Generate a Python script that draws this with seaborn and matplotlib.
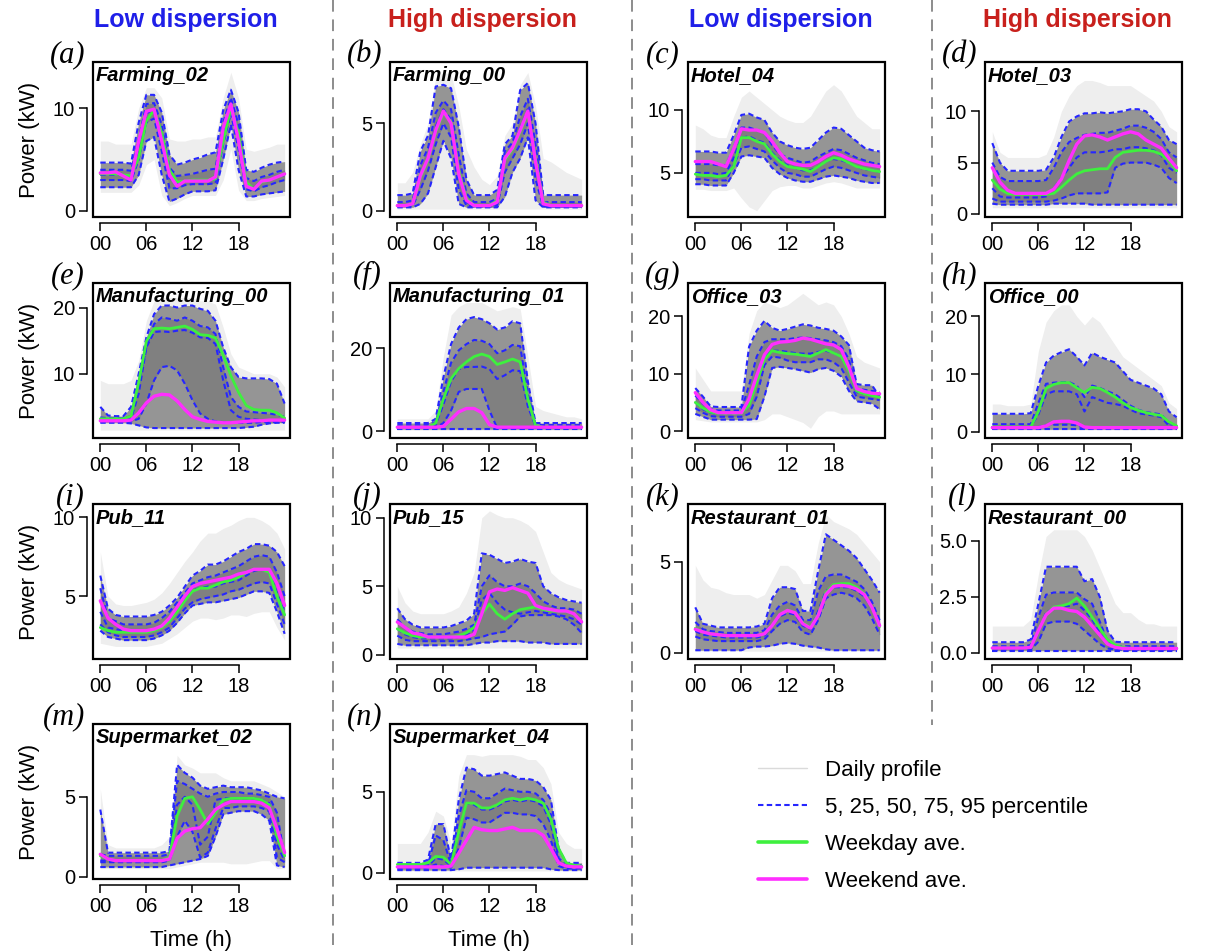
import matplotlib
matplotlib.use("Agg")
import matplotlib.pyplot as plt
from matplotlib.patches import Rectangle
from matplotlib.lines import Line2D
import seaborn as sns

HOURS = list(range(25))
XTICKS = [0, 6, 12, 18]
XTICKLABELS = ["00", "06", "12", "18"]

# ---------------- (a) Farming_02 ----------------
A_P05 = [2.3,2.3,2.3,2.3,2.3,3.5,6.8,7.2,3.5,0.9,1.2,1.6,1.9,1.9,1.9,2.0,5.0,8.4,4.0,1.4,1.4,1.6,1.7,1.8,1.9]
A_P25 = [3.0,3.0,3.0,3.0,2.9,5.0,8.6,9.0,5.8,2.2,2.2,2.5,2.6,2.6,2.6,2.7,6.5,9.5,6.0,2.1,1.9,2.3,2.5,2.8,3.0]
A_P50 = [3.5,3.5,3.5,3.5,3.3,6.0,9.5,9.9,7.2,3.2,2.7,2.9,3.0,3.0,3.0,3.1,7.5,10.3,7.3,2.6,2.2,2.8,3.0,3.3,3.5]
A_P75 = [4.0,4.0,4.0,4.0,3.9,7.0,10.4,10.5,8.4,4.2,3.4,3.5,3.6,3.8,4.0,4.1,8.6,11.0,8.4,3.2,2.9,3.3,3.5,3.8,4.0]
A_P95 = [4.7,4.7,4.7,4.7,4.6,8.6,11.3,11.3,9.6,5.5,4.5,4.7,5.0,5.2,5.5,5.7,9.8,11.8,9.6,4.0,3.8,4.2,4.5,4.7,4.8]
A_WKD = [3.6,3.6,3.6,3.5,3.4,5.2,8.8,9.8,7.6,4.0,2.8,2.9,3.0,3.0,3.0,3.1,6.8,10.0,7.6,2.8,2.1,2.8,3.0,3.3,3.6]
A_WKE = [3.7,3.7,3.8,3.4,3.0,6.8,9.7,9.9,6.8,3.5,2.4,2.9,2.9,2.9,2.9,3.3,8.1,10.4,6.8,2.4,2.1,2.9,3.0,3.3,3.6]
A_MIN = [1.8,1.8,1.8,1.8,1.8,2.5,4.5,5.0,1.5,0.5,0.8,1.2,1.5,1.5,1.5,1.5,3.0,6.0,2.0,1.0,1.0,1.2,1.3,1.4,1.5]
A_MAX = [6.8,6.8,6.5,6.5,6.5,10.0,12.0,12.0,11.0,7.0,6.8,6.8,7.0,7.0,7.2,7.2,11.0,13.5,11.0,6.0,5.8,6.0,6.2,6.5,6.5]

# ---------------- (b) Farming_00 ----------------
B_P05 = [0.2,0.2,0.2,0.4,1.0,2.5,4.0,3.0,0.4,0.2,0.2,0.2,0.2,0.2,0.8,2.2,3.0,4.2,0.6,0.2,0.2,0.2,0.2,0.2,0.2]
B_P25 = [0.25,0.25,0.3,1.2,2.3,3.8,5.0,4.2,1.2,0.3,0.25,0.25,0.25,0.3,2.2,3.0,3.8,5.0,1.8,0.25,0.25,0.25,0.25,0.25,0.25]
B_P50 = [0.3,0.3,0.4,2.0,3.0,4.8,5.8,5.2,2.2,0.5,0.3,0.3,0.3,0.4,3.0,3.6,4.7,5.8,2.8,0.3,0.3,0.3,0.3,0.3,0.3]
B_P75 = [0.5,0.5,0.6,2.6,3.6,5.6,6.3,5.8,3.2,1.0,0.5,0.5,0.5,0.7,3.4,3.9,5.4,6.4,3.8,0.5,0.5,0.5,0.5,0.5,0.5]
B_P95 = [0.9,0.9,1.0,3.4,4.3,7.1,7.2,7.0,4.8,1.8,0.9,0.9,0.9,1.2,3.8,4.3,6.9,7.3,5.0,0.9,0.9,0.9,0.9,0.9,0.9]
B_WKD = [0.3,0.3,0.4,1.9,2.9,4.5,5.6,5.1,2.3,0.7,0.3,0.3,0.3,0.6,2.9,3.5,4.5,5.6,3.0,0.5,0.3,0.3,0.3,0.3,0.3]
B_WKE = [0.3,0.3,0.4,2.0,3.0,4.6,5.7,5.0,2.1,0.6,0.3,0.3,0.3,0.5,3.0,3.6,4.6,5.7,2.8,0.4,0.3,0.3,0.3,0.3,0.3]
B_MIN = [0.1,0.1,0.1,0.1,0.1,0.1,0.1,0.1,0.1,0.1,0.1,0.1,0.1,0.1,0.1,0.1,0.1,0.1,0.1,0.1,0.1,0.1,0.1,0.1,0.1]
B_MAX = [1.6,1.6,2.2,3.8,5.0,7.6,7.9,7.8,6.0,3.5,2.5,1.8,1.5,2.0,4.3,5.0,7.2,7.9,6.0,3.0,2.8,2.5,2.2,2.0,1.8]

# ---------------- (c) Hotel_04 ----------------
C_P05 = [4.1,4.1,4.0,4.0,4.0,5.0,6.3,6.4,6.3,6.2,5.4,4.9,4.6,4.4,4.3,4.3,4.5,4.7,4.8,4.7,4.6,4.4,4.3,4.2,4.2]
C_P25 = [4.5,4.5,4.4,4.4,4.4,5.6,7.0,7.1,6.9,6.7,6.0,5.4,5.0,4.9,4.7,4.7,5.0,5.3,5.5,5.4,5.2,5.0,4.8,4.7,4.6]
C_P50 = [5.0,5.0,5.0,4.9,5.0,6.2,7.8,7.9,7.6,7.4,6.6,6.0,5.6,5.4,5.2,5.2,5.5,5.9,6.1,6.0,5.8,5.5,5.3,5.2,5.1]
C_P75 = [5.7,5.7,5.7,5.6,5.6,7.0,8.6,8.6,8.4,8.2,7.2,6.5,6.2,6.0,5.8,5.9,6.3,6.6,6.9,6.8,6.5,6.2,6.0,5.8,5.7]
C_P95 = [6.7,6.7,6.7,6.6,6.6,8.0,9.6,9.7,9.4,9.2,8.2,7.5,7.2,7.0,6.9,7.0,7.6,8.2,8.6,8.5,8.0,7.5,7.0,6.8,6.7]
C_WKD = [4.9,4.8,4.8,4.7,4.8,5.5,7.8,7.8,7.5,7.3,6.5,5.9,5.5,5.4,5.3,5.1,5.5,5.9,6.2,6.1,5.8,5.5,5.35,5.2,5.1]
C_WKE = [5.9,5.9,5.9,5.7,5.5,6.9,8.5,8.4,8.4,8.2,7.5,6.6,5.9,5.7,5.6,5.6,5.9,6.3,6.6,6.4,6.1,5.9,5.7,5.6,5.5]
C_MIN = [3.7,3.7,3.6,3.6,3.6,3.8,3.0,2.3,2.0,2.8,3.6,3.9,4.0,4.0,3.8,3.8,4.0,4.2,4.3,4.2,4.0,3.8,3.8,3.8,3.8]
C_MAX = [8.8,8.5,8.0,7.8,7.8,9.5,11.0,11.5,11.0,10.5,10.0,9.5,9.2,9.0,9.0,9.5,10.5,11.5,12.0,11.5,10.5,9.5,9.0,8.5,8.5]

# ---------------- (d) Hotel_03 ----------------
D_P05 = [1.0,0.9,0.9,0.9,0.9,0.9,0.9,0.9,1.0,1.0,1.0,1.0,1.0,0.9,0.9,0.9,0.9,0.9,0.9,0.9,0.9,0.9,0.9,0.9,0.9]
D_P25 = [1.5,1.2,1.2,1.2,1.2,1.2,1.2,1.2,1.3,1.5,1.8,2.0,2.0,2.0,2.0,2.1,4.5,4.9,5.0,5.0,5.0,4.8,4.5,3.5,3.0]
D_P50 = [2.5,1.7,1.6,1.6,1.6,1.6,1.6,1.7,2.5,3.5,4.5,5.5,6.0,6.0,6.0,6.1,6.3,6.3,6.5,6.5,6.4,6.2,5.7,4.5,4.0]
D_P75 = [5.0,3.6,3.2,3.2,3.2,3.2,3.2,3.3,4.5,6.0,7.0,7.4,7.7,7.8,7.9,7.9,8.1,8.3,8.6,8.6,8.4,8.0,7.3,6.0,5.5]
D_P95 = [6.9,5.0,4.2,4.2,4.2,4.2,4.2,4.3,5.5,7.5,9.0,9.5,9.8,9.8,9.9,9.8,9.9,10.0,10.2,10.2,10.0,9.2,8.5,7.2,6.8]
D_WKD = [3.3,2.4,2.0,1.9,1.9,1.9,1.9,1.9,2.0,2.6,3.3,3.9,4.2,4.3,4.4,4.4,5.5,6.0,6.1,6.2,6.2,6.1,5.8,5.2,4.2]
D_WKE = [4.5,3.1,2.3,2.0,2.0,2.0,2.0,2.0,2.4,3.4,5.2,6.8,7.6,7.7,7.5,7.2,7.5,7.8,8.0,7.8,7.2,6.8,6.4,5.4,4.5]
D_MIN = [0.6,0.6,0.6,0.6,0.6,0.6,0.6,0.6,0.6,0.6,0.6,0.6,0.6,0.6,0.6,0.6,0.6,0.6,0.6,0.6,0.6,0.6,0.6,0.6,0.6]
D_MAX = [8.0,6.0,5.5,5.5,5.5,5.5,5.5,5.8,7.5,10.0,11.5,12.5,13.0,13.0,12.8,12.5,12.5,12.5,12.5,12.0,11.5,11.0,10.0,8.5,8.0]

# ---------------- (e) Manufacturing_00 ----------------
E_P05 = [2.6,2.6,2.6,2.6,2.5,2.2,1.9,1.8,1.8,1.8,1.8,1.8,1.8,1.8,1.8,1.8,1.8,1.8,1.8,1.9,2.0,2.3,2.5,2.6,2.6]
E_P25 = [2.8,2.8,2.8,2.8,2.8,3.2,5.5,9.0,11.0,11.2,10.5,8.5,6.0,4.0,3.2,2.8,2.7,2.6,2.6,2.6,2.6,2.7,2.7,2.7,2.7]
E_P50 = [3.0,3.0,3.0,3.0,3.2,7.0,14.0,16.3,16.4,16.3,16.5,16.6,16.2,15.5,15.4,14.5,9.0,4.5,3.5,3.2,3.1,3.0,3.0,3.0,3.0]
E_P75 = [3.4,3.3,3.3,3.3,3.6,8.5,14.0,17.5,18.5,18.3,18.0,18.5,18.0,17.2,17.0,16.0,11.0,6.5,5.0,4.3,4.2,4.1,4.0,3.8,3.5]
E_P95 = [5.0,3.7,3.6,3.6,5.0,10.0,15.5,19.0,20.3,20.3,20.0,20.3,20.3,19.8,19.5,18.0,14.0,11.0,9.5,9.3,9.3,9.3,9.2,8.5,5.5]
E_WKD = [3.2,3.2,3.2,3.2,3.6,8.7,14.9,16.8,16.9,16.8,17.0,17.2,16.7,15.9,15.8,15.4,12.8,9.7,7.2,5.2,4.6,4.5,4.5,4.1,3.3]
E_WKE = [2.9,2.9,2.9,2.9,3.0,4.1,5.6,6.6,6.9,6.8,5.9,4.6,3.5,3.1,2.8,2.7,2.6,2.6,2.7,2.8,2.9,2.9,3.0,3.0,3.0]
E_MIN = [1.5,1.5,1.5,1.5,1.5,1.5,1.5,1.5,1.5,1.5,1.5,1.5,1.5,1.5,1.5,1.5,1.5,1.5,1.5,1.5,1.5,1.5,1.5,1.5,1.5]
E_MAX = [9.0,8.5,8.5,8.5,9.0,12.0,18.0,21.0,21.5,21.5,21.5,21.5,21.5,21.0,21.0,20.5,17.0,13.0,11.0,10.5,10.0,10.0,10.0,9.5,8.0]

# ---------------- (f) Manufacturing_01 ----------------
F_P05 = [0.5,0.5,0.5,0.5,0.5,0.5,0.5,0.5,0.5,0.5,0.5,0.5,0.5,0.5,0.5,0.5,0.5,0.5,0.5,0.5,0.5,0.5,0.5,0.5,0.5]
F_P25 = [0.8,0.8,0.8,0.8,0.8,0.9,2.0,5.0,9.5,10.2,10.2,10.2,5.0,0.8,0.8,0.8,0.8,0.8,0.8,0.8,0.8,0.8,0.8,0.8,0.8]
F_P50 = [1.0,1.0,1.0,1.0,1.0,1.5,6.5,12.0,15.0,15.5,15.5,15.6,15.0,12.6,13.5,14.7,14.5,6.0,1.2,1.0,1.0,1.0,1.0,1.0,1.0]
F_P75 = [1.5,1.5,1.5,1.5,1.5,2.2,9.5,16.5,19.5,21.0,22.0,21.8,21.0,18.8,19.5,20.8,20.5,9.0,1.6,1.5,1.5,1.5,1.5,1.5,1.5]
F_P95 = [2.0,2.0,2.0,2.0,2.0,3.0,13.0,21.0,25.0,27.0,27.5,27.0,26.0,24.5,25.0,26.5,26.0,12.0,2.0,2.0,2.0,2.0,2.0,2.0,2.0]
F_WKD = [1.0,1.0,1.0,1.0,1.0,2.0,7.8,12.7,15.1,16.7,18.0,18.6,18.0,16.1,16.7,17.4,16.7,7.8,1.4,1.0,1.0,1.0,1.0,1.0,1.0]
F_WKE = [1.0,1.0,1.0,1.0,1.0,1.0,1.2,2.9,4.7,5.5,5.5,4.5,1.6,1.0,1.0,1.0,1.0,1.0,1.0,1.0,1.0,1.0,1.0,1.0,1.0]
F_MIN = [0.3,0.3,0.3,0.3,0.3,0.3,0.3,0.3,0.3,0.3,0.3,0.3,0.3,0.3,0.3,0.3,0.3,0.3,0.3,0.3,0.3,0.3,0.3,0.3,0.3]
F_MAX = [3.0,3.0,3.0,3.0,3.0,5.0,18.0,28.0,30.0,31.0,31.0,31.0,30.0,29.0,29.5,30.0,29.5,18.0,6.0,5.0,4.5,4.0,3.5,3.5,3.0]

# ---------------- (g) Office_03 ----------------
G_P05 = [3.0,2.5,2.0,2.0,2.0,2.0,2.0,2.0,2.1,6.0,11.0,11.2,11.0,10.8,10.5,10.2,10.8,11.0,10.5,9.5,7.0,5.2,5.0,4.8,3.8]
G_P25 = [4.0,3.2,2.6,2.5,2.5,2.5,2.5,3.0,6.0,11.5,13.0,12.8,12.3,12.0,12.0,12.0,12.5,12.5,12.0,11.0,8.5,6.0,5.8,5.6,5.4]
G_P50 = [5.0,3.8,3.2,3.0,3.0,3.0,3.0,4.5,9.0,12.8,14.0,14.0,13.8,13.6,13.5,13.5,13.8,14.0,13.6,13.0,10.5,6.8,6.5,6.2,6.0]
G_P75 = [6.2,4.8,3.8,3.6,3.6,3.6,3.6,8.0,13.0,15.5,16.0,16.0,16.0,16.2,16.3,16.2,16.0,15.8,15.5,14.8,12.5,7.4,7.2,7.0,6.8]
G_P95 = [7.5,6.0,4.3,4.2,4.2,4.2,4.2,14.7,17.5,19.2,18.0,17.5,17.8,18.2,18.6,18.4,18.0,17.8,17.5,16.5,15.0,8.2,8.0,8.0,6.0]
G_WKD = [5.0,4.0,3.3,3.1,3.1,3.1,3.1,4.5,8.5,12.5,14.0,13.7,13.5,13.4,13.2,13.0,13.6,14.2,13.6,13.0,10.5,7.0,6.5,6.2,5.9]
G_WKE = [6.7,5.0,3.7,3.2,3.2,3.2,3.2,5.6,9.7,13.3,15.1,15.5,15.6,15.8,16.2,16.0,15.6,15.2,15.0,14.2,11.2,7.4,6.9,6.6,6.5]
G_MIN = [2.0,1.8,1.6,1.6,1.6,1.6,1.6,1.6,1.6,2.0,3.0,3.0,2.5,2.0,1.5,0.5,2.5,3.5,3.5,3.0,3.0,3.0,3.0,3.0,3.0]
G_MAX = [11.0,9.0,7.0,7.0,7.0,7.0,7.0,17.0,21.0,22.5,22.0,21.5,22.0,23.0,24.0,23.0,22.0,22.5,22.0,20.0,17.0,13.0,12.0,11.5,11.0]

# ---------------- (h) Office_00 ----------------
H_P05 = [0.4,0.4,0.4,0.4,0.4,0.4,0.4,0.4,0.4,0.4,0.4,0.4,0.4,0.4,0.4,0.4,0.4,0.4,0.4,0.4,0.4,0.4,0.4,0.4,0.4]
H_P25 = [0.6,0.6,0.6,0.6,0.6,0.6,0.8,1.1,1.2,1.2,1.2,1.1,0.6,0.6,0.6,0.6,0.6,0.6,0.6,0.6,0.6,0.6,0.6,0.6,0.6]
H_P50 = [0.8,0.8,0.8,0.8,0.8,0.8,3.0,6.5,7.0,7.0,7.0,6.5,3.5,6.0,5.5,5.0,4.8,4.5,3.8,3.2,3.0,2.8,2.5,1.0,0.6]
H_P75 = [1.3,1.3,1.3,1.3,1.3,1.3,5.0,8.3,8.5,8.6,8.6,8.0,6.0,8.0,7.6,7.0,6.5,5.5,4.5,3.8,3.4,3.2,3.0,1.5,1.0]
H_P95 = [3.1,3.1,3.1,3.1,3.1,3.2,8.0,12.0,13.2,13.8,14.3,13.0,11.5,13.7,13.0,12.5,12.0,10.5,9.0,8.5,8.0,7.5,6.5,3.5,2.5]
H_WKD = [0.8,0.8,0.8,0.8,0.8,0.8,3.5,7.5,8.2,8.5,8.5,7.6,6.8,7.7,7.5,6.8,6.0,5.0,4.2,3.7,3.3,3.0,2.8,1.7,1.0]
H_WKE = [0.7,0.7,0.7,0.7,0.7,0.7,0.7,1.0,1.7,1.8,1.8,1.5,0.8,0.7,0.7,0.7,0.7,0.7,0.7,0.7,0.7,0.7,0.7,0.7,0.7]
H_MIN = [0.3,0.3,0.3,0.3,0.3,0.3,0.3,0.3,0.3,0.3,0.3,0.3,0.3,0.3,0.3,0.3,0.3,0.3,0.3,0.3,0.3,0.3,0.3,0.3,0.3]
H_MAX = [4.8,4.8,4.5,4.5,4.5,4.8,14.0,19.0,21.0,22.0,22.0,20.0,18.5,20.0,19.0,17.0,15.0,13.0,12.0,11.0,10.0,9.0,8.0,5.0,4.0]

# ---------------- (i) Pub_11 ----------------
I_P05 = [2.8,2.4,2.3,2.2,2.2,2.2,2.2,2.3,2.5,2.8,3.3,3.9,4.4,4.5,4.6,4.6,4.7,4.8,4.9,5.1,5.3,5.3,5.2,4.0,2.6]
I_P25 = [3.2,2.7,2.5,2.4,2.4,2.4,2.4,2.5,2.7,3.0,3.6,4.2,4.6,4.8,4.9,5.0,5.1,5.3,5.4,5.6,5.8,5.9,5.8,4.5,3.2]
I_P50 = [4.0,3.0,2.9,2.8,2.8,2.8,2.8,2.9,3.1,3.5,4.1,4.8,5.4,5.5,5.6,5.6,5.8,5.9,6.0,6.3,6.6,6.7,6.5,5.2,4.0]
I_P75 = [5.5,3.6,3.4,3.2,3.2,3.2,3.2,3.3,3.6,4.0,4.6,5.2,5.8,6.0,6.2,6.3,6.5,6.7,6.9,7.2,7.5,7.6,7.5,6.5,5.0]
I_P95 = [6.3,4.2,3.8,3.7,3.7,3.7,3.7,3.8,4.0,4.4,4.9,5.6,6.3,6.6,7.0,7.0,7.2,7.5,7.8,8.0,8.3,8.3,8.2,7.8,6.9]
I_WKD = [3.0,2.8,2.7,2.7,2.7,2.7,2.7,2.8,3.0,3.4,4.0,4.7,5.3,5.5,5.5,5.7,5.9,6.0,6.2,6.5,6.7,6.7,6.5,5.0,3.8]
I_WKE = [4.7,3.6,3.2,2.9,2.8,2.8,2.8,2.9,3.1,3.6,4.3,5.0,5.6,5.8,5.9,6.0,6.1,6.2,6.4,6.5,6.7,6.7,6.7,5.8,4.4]
I_MIN = [2.0,1.9,1.8,1.8,1.8,1.8,1.8,1.9,2.0,2.3,2.6,3.0,3.4,3.6,3.6,3.5,3.6,3.8,3.8,3.7,3.9,4.0,4.0,3.0,2.2]
I_MAX = [7.8,5.0,4.5,4.4,4.4,4.5,4.6,4.8,5.2,5.8,6.5,7.2,7.8,8.5,9.0,9.0,9.3,9.5,9.8,10.0,10.0,9.8,9.5,9.0,8.0]

# ---------------- (j) Pub_15 ----------------
J_P05 = [0.8,0.7,0.7,0.7,0.7,0.7,0.7,0.7,0.7,0.7,0.8,0.9,0.9,1.0,1.0,1.0,1.0,0.9,0.9,0.9,0.8,0.8,0.8,0.8,0.8]
J_P25 = [1.4,1.1,1.0,1.0,1.0,1.0,1.0,1.0,1.0,1.1,1.2,1.3,1.5,1.6,1.7,2.2,2.8,2.9,2.9,2.9,2.9,2.8,2.6,2.2,1.6]
J_P50 = [1.9,1.5,1.3,1.2,1.2,1.2,1.2,1.2,1.3,1.5,1.8,4.0,4.5,3.8,3.3,3.1,3.0,3.1,3.2,3.1,3.0,2.9,2.8,2.6,2.2]
J_P75 = [2.6,2.0,1.7,1.6,1.5,1.5,1.5,1.6,1.7,1.9,2.2,5.0,5.8,5.3,5.0,5.0,5.2,5.0,4.5,3.9,3.6,3.4,3.4,3.3,3.0]
J_P95 = [3.4,2.6,2.2,2.0,2.0,2.0,2.0,2.1,2.3,2.5,3.0,7.4,7.3,7.0,6.7,6.8,7.0,6.8,6.7,5.0,4.5,4.2,4.0,3.9,3.8]
J_WKD = [1.9,1.6,1.4,1.3,1.3,1.3,1.3,1.3,1.4,1.6,2.0,3.0,3.7,3.0,2.6,3.0,3.3,3.4,3.5,3.3,3.2,3.2,3.2,3.0,2.4]
J_WKE = [2.4,2.0,1.6,1.5,1.3,1.3,1.3,1.3,1.3,1.3,1.5,3.0,4.6,4.8,4.7,4.9,4.7,4.5,3.6,3.4,3.3,3.2,3.2,3.0,2.4]
J_MIN = [0.5,0.5,0.5,0.5,0.5,0.5,0.5,0.5,0.5,0.5,0.5,0.5,0.5,0.5,0.5,0.5,0.5,0.5,0.5,0.5,0.5,0.5,0.5,0.5,0.5]
J_MAX = [5.0,3.8,3.2,3.0,3.0,3.0,3.0,3.2,3.5,4.5,6.0,10.0,10.5,10.2,10.0,10.0,9.8,9.5,9.0,7.5,6.0,5.5,5.2,5.0,4.8]

# ---------------- (k) Restaurant_01 ----------------
K_P05 = [0.15,0.15,0.15,0.15,0.15,0.15,0.15,0.3,0.35,0.35,0.4,0.5,0.55,0.5,0.4,0.35,0.3,0.2,0.15,0.15,0.15,0.15,0.15,0.15,0.15]
K_P25 = [0.9,0.75,0.7,0.65,0.65,0.65,0.65,0.65,0.65,0.75,1.2,1.6,1.8,1.7,1.15,1.0,1.8,3.0,3.2,3.3,3.2,3.0,2.6,1.9,1.0]
K_P50 = [1.2,1.0,0.95,0.9,0.85,0.85,0.85,0.85,0.85,0.95,1.5,2.0,2.2,2.1,1.5,1.3,2.3,3.4,3.6,3.6,3.6,3.4,3.1,2.5,1.5]
K_P75 = [1.7,1.3,1.2,1.15,1.1,1.1,1.1,1.1,1.1,1.25,2.1,2.6,2.8,2.6,1.8,1.8,3.4,4.2,4.3,4.3,4.1,3.9,3.5,2.8,1.8]
K_P95 = [2.5,1.6,1.5,1.4,1.4,1.4,1.4,1.4,1.45,1.6,3.0,3.6,3.6,3.5,2.3,2.3,4.5,6.5,6.2,5.9,5.6,5.2,4.6,4.0,3.3]
K_WKD = [1.35,1.15,1.05,1.0,0.95,0.95,0.95,0.95,0.95,1.05,1.5,2.1,2.35,2.2,1.65,1.4,2.1,3.3,3.75,3.8,3.8,3.6,3.25,2.5,1.45]
K_WKE = [1.3,1.15,1.05,1.0,0.95,0.95,0.95,0.95,0.95,1.05,1.5,2.1,2.33,2.2,1.6,1.36,2.05,3.2,3.65,3.7,3.65,3.5,3.2,2.5,1.5]
K_MIN = [0.1,0.1,0.1,0.1,0.1,0.1,0.1,0.1,0.1,0.1,0.1,0.1,0.1,0.1,0.1,0.1,0.1,0.1,0.1,0.1,0.1,0.1,0.1,0.1,0.1]
K_MAX = [4.8,4.0,3.6,3.5,3.3,3.2,3.2,3.2,3.0,3.2,4.0,4.8,4.8,4.5,3.8,3.8,6.0,7.6,7.2,7.0,6.8,6.5,6.0,5.5,5.0]

# ---------------- (l) Restaurant_00 ----------------
L_P05 = [0.1,0.1,0.1,0.1,0.1,0.1,0.1,0.1,0.1,0.1,0.1,0.1,0.1,0.1,0.1,0.1,0.1,0.1,0.1,0.1,0.1,0.1,0.1,0.1,0.1]
L_P25 = [0.15,0.15,0.15,0.15,0.15,0.15,0.5,1.3,1.4,1.4,1.4,1.3,1.0,0.7,0.4,0.2,0.15,0.15,0.15,0.15,0.15,0.15,0.15,0.15,0.15]
L_P50 = [0.2,0.2,0.2,0.2,0.2,0.25,1.0,1.8,2.0,2.1,2.1,2.2,1.9,1.5,0.9,0.4,0.2,0.2,0.2,0.2,0.2,0.2,0.2,0.2,0.2]
L_P75 = [0.3,0.3,0.3,0.3,0.3,0.35,1.6,2.6,2.7,2.7,2.7,2.7,2.4,2.2,1.4,0.5,0.3,0.3,0.3,0.3,0.3,0.3,0.3,0.3,0.3]
L_P95 = [0.48,0.48,0.48,0.48,0.48,0.6,2.2,3.85,3.85,3.85,3.85,3.85,3.2,3.3,2.5,1.0,0.5,0.48,0.48,0.48,0.48,0.48,0.48,0.48,0.48]
L_WKD = [0.22,0.22,0.22,0.22,0.22,0.25,1.0,1.7,2.05,2.1,2.2,2.45,2.1,1.6,1.1,0.6,0.35,0.25,0.2,0.2,0.2,0.2,0.2,0.2,0.2]
L_WKE = [0.22,0.22,0.22,0.22,0.22,0.25,1.0,1.7,2.0,2.0,1.9,1.85,1.6,1.2,0.8,0.4,0.25,0.2,0.2,0.2,0.2,0.2,0.2,0.2,0.2]
L_MIN = [0.05,0.05,0.05,0.05,0.05,0.05,0.05,0.05,0.05,0.05,0.05,0.05,0.05,0.05,0.05,0.05,0.05,0.05,0.05,0.05,0.05,0.05,0.05,0.05,0.05]
L_MAX = [1.2,1.2,1.2,1.2,1.2,1.5,3.5,5.2,5.5,5.5,5.5,5.5,5.2,4.6,3.8,3.0,2.2,1.8,1.8,1.5,1.3,1.3,1.2,1.2,1.2]

# ---------------- (m) Supermarket_02 ----------------
M_P05 = [0.6,0.6,0.6,0.6,0.6,0.6,0.6,0.6,0.6,0.7,0.8,0.9,1.0,1.1,1.3,2.5,3.9,4.0,4.1,4.1,4.1,3.9,3.5,0.7,0.6]
M_P25 = [0.9,0.9,0.9,0.9,0.9,0.9,0.9,0.9,0.9,1.0,2.5,3.5,2.8,1.2,1.5,3.0,4.3,4.3,4.4,4.4,4.4,4.3,4.1,1.2,0.9]
M_P50 = [1.0,1.0,1.0,1.0,1.0,1.0,1.0,1.0,1.0,1.1,4.5,5.0,4.5,2.0,2.5,4.8,4.9,4.9,4.9,4.9,4.9,4.8,4.6,2.0,1.0]
M_P75 = [1.4,1.3,1.3,1.3,1.3,1.3,1.3,1.3,1.3,1.4,6.0,5.8,5.5,5.2,5.0,5.2,5.3,5.3,5.3,5.2,5.2,5.1,5.0,4.0,1.2]
M_P95 = [4.2,1.5,1.5,1.5,1.5,1.5,1.5,1.5,1.5,1.6,7.0,6.5,6.2,5.7,5.5,5.6,5.7,5.6,5.6,5.6,5.5,5.4,5.2,5.0,4.9]
M_WKD = [1.3,1.1,1.0,1.0,1.0,1.0,1.0,1.0,1.0,1.2,3.8,4.9,5.0,4.2,3.3,4.0,4.8,4.9,4.9,4.9,4.9,4.8,4.5,2.5,1.3]
M_WKE = [1.4,1.1,1.0,1.0,1.0,1.0,1.0,1.0,1.0,1.1,2.4,2.85,3.0,3.06,3.6,4.2,4.5,4.7,4.7,4.7,4.7,4.6,4.3,3.0,1.5]
M_MIN = [0.5,0.5,0.5,0.5,0.5,0.5,0.5,0.5,0.5,0.5,0.6,0.7,0.8,0.9,0.9,0.9,0.9,0.8,0.8,0.8,0.9,1.0,1.0,0.5,0.5]
M_MAX = [5.5,2.0,1.8,1.8,1.8,1.8,1.8,1.8,2.0,2.5,7.6,7.0,6.8,6.5,6.5,6.5,6.2,6.0,6.0,6.0,6.0,5.8,5.6,5.3,5.0]

# ---------------- (n) Supermarket_04 ----------------
N_P05 = [0.15,0.15,0.15,0.15,0.15,0.15,0.15,0.15,0.2,0.3,0.3,0.3,0.3,0.3,0.3,0.3,0.3,0.3,0.3,0.3,0.2,0.15,0.15,0.15,0.15]
N_P25 = [0.25,0.25,0.25,0.25,0.3,0.5,0.4,0.3,1.5,3.4,3.3,3.1,3.1,3.4,3.7,3.7,3.6,3.6,3.5,3.0,2.0,0.4,0.25,0.25,0.25]
N_P50 = [0.35,0.35,0.35,0.35,0.4,0.9,0.8,0.4,2.5,4.3,4.2,3.9,3.9,4.1,4.4,4.5,4.4,4.5,4.4,4.1,3.0,0.6,0.35,0.35,0.35]
N_P75 = [0.45,0.45,0.45,0.45,0.5,2.3,2.0,0.5,3.5,5.1,5.0,4.6,4.6,4.9,5.2,5.1,5.0,5.0,4.9,4.5,3.6,0.9,0.45,0.45,0.45]
N_P95 = [0.6,0.6,0.6,0.6,0.8,3.0,3.0,0.8,4.5,6.5,6.4,6.0,6.0,6.1,6.2,6.0,5.8,5.8,5.7,5.3,4.5,1.5,0.6,0.6,0.6]
N_WKD = [0.5,0.5,0.5,0.5,0.6,1.0,0.95,0.5,2.5,4.3,4.3,4.0,4.0,4.2,4.5,4.6,4.5,4.6,4.5,4.3,3.3,1.5,0.6,0.45,0.4]
N_WKE = [0.35,0.35,0.35,0.35,0.35,0.35,0.35,0.4,1.2,2.0,2.8,2.65,2.6,2.6,2.7,2.8,2.6,2.6,2.6,2.3,1.5,0.6,0.4,0.35,0.35]
N_MIN = [0.1,0.1,0.1,0.1,0.1,0.1,0.1,0.1,0.1,0.1,0.1,0.1,0.1,0.1,0.1,0.1,0.1,0.1,0.1,0.1,0.1,0.1,0.1,0.1,0.1]
N_MAX = [1.8,1.8,1.8,1.8,2.5,3.8,3.5,1.8,6.0,7.3,7.3,7.2,7.3,7.3,7.3,7.3,7.2,7.0,7.0,6.5,5.5,2.5,1.8,1.5,1.5]

PANEL_LETTERS = ["(a)", "(b)", "(c)", "(d)", "(e)", "(f)", "(g)", "(h)",
                 "(i)", "(j)", "(k)", "(l)", "(m)", "(n)"]
PANEL_NAMES = ["Farming_02", "Farming_00", "Hotel_04", "Hotel_03",
               "Manufacturing_00", "Manufacturing_01", "Office_03", "Office_00",
               "Pub_11", "Pub_15", "Restaurant_01", "Restaurant_00",
               "Supermarket_02", "Supermarket_04"]
Y_LIMITS = [(-0.6, 14.5), (-0.35, 8.5), (1.5, 13.8), (-0.3, 14.8),
            (0.3, 23.7), (-1.6, 35.7), (-1.2, 25.8), (-1.1, 25.8),
            (1.0, 10.85), (-0.3, 11.0), (-0.33, 8.16), (-0.27, 6.65),
            (-0.15, 9.56), (-0.4, 9.2)]
Y_TICKS = [[0, 10], [0, 5], [5, 10], [0, 5, 10],
           [10, 20], [0, 20], [0, 10, 20], [0, 10, 20],
           [5, 10], [0, 5, 10], [0, 5], [0.0, 2.5, 5.0],
           [0, 5], [0, 5]]
Y_TICKLABELS = [["0", "10"], ["0", "5"], ["5", "10"], ["0", "5", "10"],
                ["10", "20"], ["0", "20"], ["0", "10", "20"], ["0", "10", "20"],
                ["5", "10"], ["0", "5", "10"], ["0", "5"], ["0.0", "2.5", "5.0"],
                ["0", "5"], ["0", "5"]]
COLUMN_TITLES = ["Low dispersion", "High dispersion", "Low dispersion", "High dispersion"]
LEGEND_LABELS = ["Daily profile", "5, 25, 50, 75, 95 percentile", "Weekday ave.", "Weekend ave."]

SERIES = [
    (A_P05, A_P25, A_P50, A_P75, A_P95, A_WKD, A_WKE, A_MIN, A_MAX),
    (B_P05, B_P25, B_P50, B_P75, B_P95, B_WKD, B_WKE, B_MIN, B_MAX),
    (C_P05, C_P25, C_P50, C_P75, C_P95, C_WKD, C_WKE, C_MIN, C_MAX),
    (D_P05, D_P25, D_P50, D_P75, D_P95, D_WKD, D_WKE, D_MIN, D_MAX),
    (E_P05, E_P25, E_P50, E_P75, E_P95, E_WKD, E_WKE, E_MIN, E_MAX),
    (F_P05, F_P25, F_P50, F_P75, F_P95, F_WKD, F_WKE, F_MIN, F_MAX),
    (G_P05, G_P25, G_P50, G_P75, G_P95, G_WKD, G_WKE, G_MIN, G_MAX),
    (H_P05, H_P25, H_P50, H_P75, H_P95, H_WKD, H_WKE, H_MIN, H_MAX),
    (I_P05, I_P25, I_P50, I_P75, I_P95, I_WKD, I_WKE, I_MIN, I_MAX),
    (J_P05, J_P25, J_P50, J_P75, J_P95, J_WKD, J_WKE, J_MIN, J_MAX),
    (K_P05, K_P25, K_P50, K_P75, K_P95, K_WKD, K_WKE, K_MIN, K_MAX),
    (L_P05, L_P25, L_P50, L_P75, L_P95, L_WKD, L_WKE, L_MIN, L_MAX),
    (M_P05, M_P25, M_P50, M_P75, M_P95, M_WKD, M_WKE, M_MIN, M_MAX),
    (N_P05, N_P25, N_P50, N_P75, N_P95, N_WKD, N_WKE, N_MIN, N_MAX),
]

# ---------------- styling ----------------
sns.set_theme(style="ticks")
plt.rcParams["font.family"] = ["Liberation Sans", "DejaVu Sans"]
for key in ("text.color", "axes.labelcolor", "xtick.color", "ytick.color", "axes.edgecolor"):
    plt.rcParams[key] = "black"

BLUE = "#2626ff"
GREEN = "#3ef03e"
MAGENTA = "#ff2eff"
MID_GRAY = "#959595"
DARK_GRAY = "#808080"
LIGHT_GRAY = "#eeeeee"
DASH = (0, (2.6, 1.6))

W, H = 1216, 952
COL_LEFT = [93, 390, 688, 985]
ROW_TOP = [62, 283, 504, 724]
BOX_W, BOX_H = 197, 155

fig = plt.figure(figsize=(W / 100, H / 100), dpi=100)


def fig_rect(left, top, w, h):
    return [left / W, 1 - (top + h) / H, w / W, h / H]


for idx, (p05, p25, p50, p75, p95, wkd, wke, vmin, vmax) in enumerate(SERIES):
    r, c = divmod(idx, 4)
    ax = fig.add_axes(fig_rect(COL_LEFT[c], ROW_TOP[r], BOX_W, BOX_H))
    ax.fill_between(HOURS, vmin, vmax, color=LIGHT_GRAY, lw=0, zorder=1)
    ax.fill_between(HOURS, p05, p95, color=MID_GRAY, lw=0, zorder=2)
    ax.fill_between(HOURS, p25, p75, color=DARK_GRAY, lw=0, zorder=2)
    for pct in (p05, p25, p50, p75, p95):
        sns.lineplot(x=HOURS, y=pct, ax=ax, color=BLUE, lw=1.5,
                     linestyle=DASH, zorder=3)
    sns.lineplot(x=HOURS, y=wkd, ax=ax, color=GREEN, lw=2.0, zorder=4)
    sns.lineplot(x=HOURS, y=wke, ax=ax, color=MAGENTA, lw=2.4, zorder=5)

    ax.set_xlim(-0.95, 24.7)
    ax.set_ylim(*Y_LIMITS[idx])
    ax.set_xticks(XTICKS)
    ax.set_xticklabels(XTICKLABELS)
    ax.set_yticks(Y_TICKS[idx])
    ax.set_yticklabels(Y_TICKLABELS[idx])
    ax.tick_params(axis="both", labelsize=14.5, length=6, width=1.1,
                   color="black", pad=3, labelcolor="black")
    for side in ("top", "right"):
        ax.spines[side].set_visible(False)
    for side in ("left", "bottom"):
        ax.spines[side].set_position(("outward", 4))
        ax.spines[side].set_color("black")
        ax.spines[side].set_linewidth(1.1)
    ax.spines["bottom"].set_bounds(XTICKS[0], XTICKS[-1])
    ax.spines["left"].set_bounds(Y_TICKS[idx][0], Y_TICKS[idx][-1])
    ax.add_patch(Rectangle((0, 0), 1, 1, transform=ax.transAxes, fill=False,
                           ec="black", lw=1.6, clip_on=False, zorder=10))
    ax.set_xlabel("")
    ax.set_ylabel("")

    ax.text(0.015, 0.975, PANEL_NAMES[idx], transform=ax.transAxes,
            ha="left", va="top", fontsize=14.5, fontweight="bold",
            fontstyle="italic", color="black", zorder=11)
    ax.text(-0.04, 1.05, PANEL_LETTERS[idx], transform=ax.transAxes,
            ha="right", va="center", fontsize=22, fontstyle="italic",
            family=["Liberation Serif", "DejaVu Serif"], color="black")

    if c == 0:
        ax.set_ylabel("Power (kW)", fontsize=16)
        ax.yaxis.set_label_coords(-0.27, 0.5)
    if r == 3:
        ax.set_xlabel("Time (h)", fontsize=16)
        ax.xaxis.set_label_coords(0.5, -0.33)

# column titles
for c, title in enumerate(COLUMN_TITLES):
    color = "#1f1fe8" if c % 2 == 0 else "#c8201c"
    fig.text((COL_LEFT[c] + BOX_W / 2 - 6) / W, 1 - 20 / H, title,
             ha="center", va="center", fontsize=18, fontweight="bold",
             color=color)

# dashed separators
SEP_X = [333, 632, 932]
SEP_END = [952, 952, 725]
for x, y_end in zip(SEP_X, SEP_END):
    fig.add_artist(Line2D([x / W, x / W], [1, 1 - y_end / H],
                          transform=fig.transFigure, color="#8c8c8c",
                          lw=1.4, ls=(0, (6, 4))))

# legend
handles = [
    Line2D([], [], color="#dadada", lw=1.0),
    Line2D([], [], color=BLUE, lw=1.5, ls=DASH),
    Line2D([], [], color=GREEN, lw=2.6),
    Line2D([], [], color=MAGENTA, lw=2.6),
]
fig.legend(handles, LEGEND_LABELS, loc="upper left",
           bbox_to_anchor=(758 / W, 1 - 760 / H), frameon=False,
           fontsize=16, handlelength=2.2, handletextpad=0.8,
           labelspacing=0.72, borderpad=0, borderaxespad=0)

fig.savefig("out.png", dpi=100)
